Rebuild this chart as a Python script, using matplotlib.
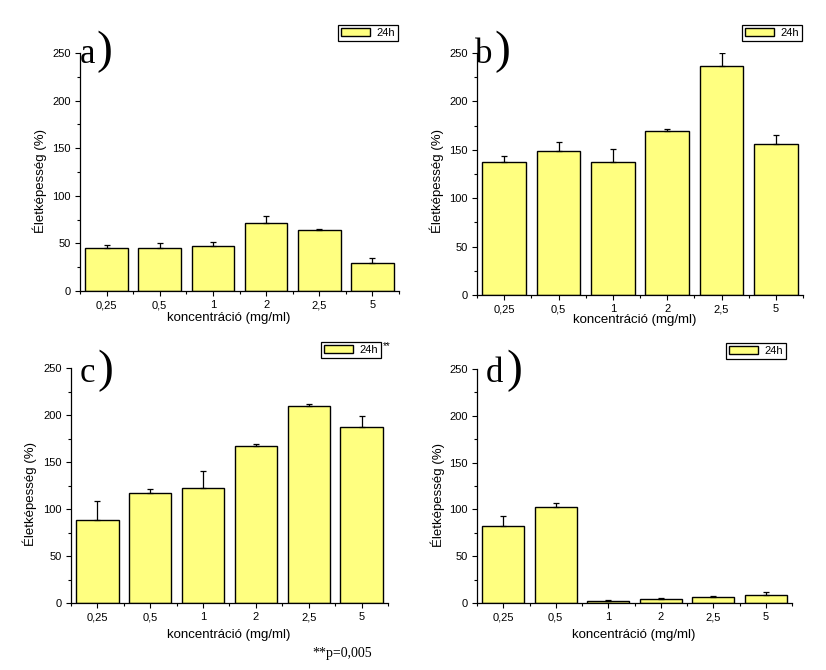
import matplotlib
matplotlib.use("Agg")
import matplotlib.pyplot as plt
from matplotlib.ticker import FixedLocator, MultipleLocator
import numpy as np

W, H = 826, 670
DPI = 100

categories = ["0,25", "0,5", "1", "2", "2,5", "5"]

vals_a = [45, 45, 47.5, 71, 64, 29]
err_a = [3, 5, 3.5, 7.5, 1, 5.5]

vals_b = [137, 148.5, 137, 169.5, 236.5, 156]
err_b = [6.5, 9.5, 13.5, 2, 13.5, 9.5]

vals_c = [88, 116.5, 122, 167, 209.5, 187]
err_c = [20.5, 4.5, 18, 2, 2, 11.5]

vals_d = [82, 102.5, 2, 4.3, 6.4, 8.5]
err_d = [11, 4.2, 1.2, 1, 1.1, 3.3]

legend_label = "24h"
ylabel = "Életképesség (%)"
xlabel = "koncentráció (mg/ml)"
yticks = [0, 50, 100, 150, 200, 250]

plt.rcParams["font.family"] = ["Liberation Sans", "DejaVu Sans"]

fig = plt.figure(figsize=(W / DPI, H / DPI), dpi=DPI)
fig.patch.set_facecolor("white")

YELLOW = "#FFFF80"


def fx(x):
    return x / W


def fy(y):
    return 1 - y / H


def make_panel(box, vals, errs, letter, letter_pos, paren_pos, ylab_pos, xlab_pos, leg_box):
    l, t, r, b = box
    ax = fig.add_axes([fx(l), fy(b), (r - l) / W, (b - t) / H])
    x = np.arange(len(categories))
    bars = ax.bar(x, vals, width=0.8, color=YELLOW, edgecolor="black",
                  linewidth=1.0, label=legend_label, zorder=2)
    ax.errorbar(x, vals, yerr=[np.zeros(len(vals)), errs], fmt="none",
                ecolor="black", elinewidth=0.9, capsize=2.5, capthick=0.9, zorder=3)
    ax.set_xlim(-0.5, len(categories) - 0.5)
    ax.set_ylim(0, 250)
    ax.spines["top"].set_visible(False)
    ax.spines["right"].set_visible(False)
    ax.spines["left"].set_linewidth(0.9)
    ax.spines["bottom"].set_linewidth(0.9)
    ax.set_xticks(x)
    ax.set_xticklabels(categories)
    ax.xaxis.set_minor_locator(FixedLocator(np.arange(-0.5, len(categories), 1.0)))
    ax.set_yticks(yticks)
    ax.yaxis.set_minor_locator(MultipleLocator(25))
    ax.tick_params(axis="both", which="major", direction="out", length=3.5,
                   width=0.8, labelsize=8, pad=3.0)
    ax.tick_params(axis="both", which="minor", direction="out", length=2.5, width=0.8)
    ax.patch.set_alpha(0)

    fig.text(fx(letter_pos[0]), fy(letter_pos[1]), letter, family="Liberation Serif",
             fontsize=25, ha="left", va="baseline")
    fig.text(fx(paren_pos[0]), fy(paren_pos[1]), ")", family="Liberation Serif",
             fontsize=34, ha="left", va="baseline")
    fig.text(fx(ylab_pos[0]), fy(ylab_pos[1]), ylabel, rotation=90, fontsize=9.5,
             ha="center", va="center")
    fig.text(fx(xlab_pos[0]), fy(xlab_pos[1]), xlabel, fontsize=9.5,
             ha="center", va="center")
    leg = ax.legend(handles=[bars], loc="upper right",
                    bbox_to_anchor=(fx(leg_box[0]), fy(leg_box[1])),
                    bbox_transform=fig.transFigure, frameon=True, fancybox=False,
                    edgecolor="black", framealpha=1, fontsize=8, handlelength=2.6,
                    handleheight=0.7, borderpad=0.25, handletextpad=0.6,
                    borderaxespad=0)
    leg.get_frame().set_linewidth(0.9)
    return ax


ax_a = make_panel((80, 53, 399, 291), vals_a, err_a, "a", (80, 63), (96, 63),
                  (40, 181), (229, 318), (398, 25))
ax_b = make_panel((477, 53, 803, 295), vals_b, err_b, "b", (475, 63), (494, 63),
                  (437, 181), (635, 320), (802, 25))
ax_c = make_panel((71, 368, 388, 603), vals_c, err_c, "c", (80, 382), (97, 382),
                  (30, 494), (229, 635), (381, 342))
ax_d = make_panel((477, 369, 792, 603), vals_d, err_d, "d", (486, 382), (506, 382),
                  (438, 495), (634, 635), (786, 343))

fig.text(fx(383), fy(341), "**", fontsize=7, ha="left", va="top")
fig.text(fx(312), fy(653), "**p=0,005", family="Liberation Serif", fontsize=10,
         ha="left", va="center")

fig.savefig("out.png", dpi=DPI)
